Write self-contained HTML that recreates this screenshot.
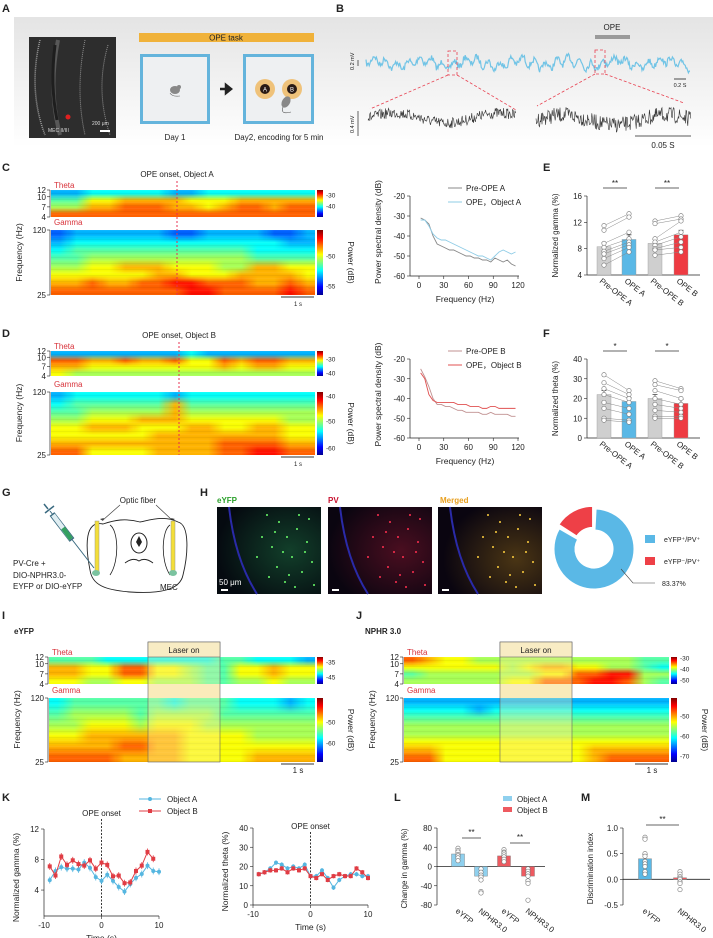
<!DOCTYPE html>
<html><head><meta charset="utf-8">
<style>
html,body{margin:0;padding:0;background:#fff;}
#wrap{position:relative;width:713px;height:938px;overflow:hidden;font-family:"Liberation Sans",sans-serif;background:#fff;}
#fig{position:absolute;left:0;top:0;z-index:2;}
canvas{position:absolute;z-index:1;}
text{font-family:"Liberation Sans",sans-serif;fill:#222;}
.pl{font-size:11px;font-weight:bold;}
.t{font-size:8px;}
.s{font-size:7px;}
</style></head>
<body>
<div id="wrap">
<svg id="fig" width="713" height="938" viewBox="0 0 713 938" xmlns="http://www.w3.org/2000/svg">
<defs>
<linearGradient id="bandg" x1="0" y1="0" x2="0" y2="1"><stop offset="0" stop-color="#e4e4e4"/><stop offset="1" stop-color="#ffffff"/></linearGradient>
<linearGradient id="jetv" x1="0" y1="1" x2="0" y2="0">
<stop offset="0" stop-color="#00008f"/><stop offset="0.125" stop-color="#0000ff"/><stop offset="0.375" stop-color="#00ffff"/><stop offset="0.625" stop-color="#ffff00"/><stop offset="0.875" stop-color="#ff0000"/><stop offset="1" stop-color="#800000"/></linearGradient>
<radialGradient id="glowG" cx="0.7" cy="0.5" r="0.7"><stop offset="0" stop-color="#123f2a"/><stop offset="1" stop-color="#050a10"/></radialGradient>
<radialGradient id="glowR" cx="0.7" cy="0.5" r="0.7"><stop offset="0" stop-color="#4a0e20"/><stop offset="1" stop-color="#0a0510"/></radialGradient>
<radialGradient id="glowM" cx="0.75" cy="0.6" r="0.7"><stop offset="0" stop-color="#4a3514"/><stop offset="1" stop-color="#0a0510"/></radialGradient>
</defs>
<rect x="14" y="17" width="699" height="130" fill="url(#bandg)"/>
<text class="pl" x="2" y="12">A</text>
<text class="pl" x="336" y="12">B</text>
<text class="pl" x="2" y="171">C</text>
<text class="pl" x="2" y="337">D</text>
<text class="pl" x="543" y="171">E</text>
<text class="pl" x="543" y="337">F</text>
<text class="pl" x="2" y="496">G</text>
<text class="pl" x="200" y="496">H</text>
<text class="pl" x="2" y="619">I</text>
<text class="pl" x="356" y="619">J</text>
<text class="pl" x="2" y="801">K</text>
<text class="pl" x="394" y="801">L</text>
<text class="pl" x="581" y="801">M</text>

<g>
<rect x="29" y="37" width="87" height="101" fill="#151515"/>
<path d="M40 40 Q28 90 45 135" stroke="#aaa" stroke-width="1.5" fill="none" stroke-dasharray="1 1"/>
<path d="M58 40 Q48 90 60 135" stroke="#888" stroke-width="4" fill="none" opacity="0.5"/>
<path d="M55 45 Q50 85 57 120" stroke="#000" stroke-width="3" fill="none"/>
<path d="M85 40 Q75 90 85 135" stroke="#999" stroke-width="1" fill="none" stroke-dasharray="1 1"/>
<path d="M108 45 Q95 90 110 135" stroke="#999" stroke-width="1" fill="none" stroke-dasharray="1 1"/>
<rect x="29" y="37" width="87" height="101" fill="#777" opacity="0.25"/>
<circle cx="68" cy="117" r="2.5" fill="#e02020"/>
<text x="48" y="132" style="fill:#ddd;font-size:5px">MEC II/III</text>
<text x="92" y="125" style="fill:#ddd;font-size:5px">200 μm</text>
<rect x="100" y="130" width="10" height="2" fill="#fff"/>
</g>
<rect x="139" y="33" width="175" height="9" fill="#f0b23a"/>
<text x="226" y="40.5" class="t" text-anchor="middle">OPE task</text>
<g>
<rect x="141.5" y="55.5" width="67" height="67" fill="#eef0f2" stroke="#64b4dc" stroke-width="3"/>
<ellipse cx="175" cy="90" rx="5" ry="4" fill="#888"/><circle cx="179" cy="87" r="2" fill="#888"/>
<path d="M170 93 q2 4 10 3" stroke="#666" fill="none" stroke-width="0.6"/>
</g>
<path d="M220 89 h10 M226 85 l5 4 l-5 4 z" stroke="#222" stroke-width="2.5" fill="#222"/>
<g>
<rect x="244.5" y="55.5" width="68" height="67" fill="#eef0f2" stroke="#64b4dc" stroke-width="3"/>
<circle cx="265" cy="89" r="10" fill="#efc27a"/><circle cx="265" cy="89" r="5" fill="#2a1a14"/><text x="265" y="91.5" text-anchor="middle" style="fill:#fff;font-size:6px">A</text>
<circle cx="292" cy="89" r="10" fill="#efc27a"/><circle cx="292" cy="89" r="5" fill="#2a1a14"/><text x="292" y="91.5" text-anchor="middle" style="fill:#fff;font-size:6px">B</text>
<ellipse cx="286" cy="102" rx="4" ry="6" fill="#888" transform="rotate(30 286 102)"/>
<path d="M283 107 q-3 8 8 5" stroke="#555" fill="none" stroke-width="0.6"/>
</g>
<text x="175" y="140" class="t" text-anchor="middle">Day 1</text>
<text x="279" y="140" class="t" text-anchor="middle">Day2, encoding for 5 min</text>

<text x="612" y="30" class="t" text-anchor="middle">OPE</text>
<rect x="595" y="35" width="35" height="4" fill="#9a9a9a"/>
<g id="traces"></g>
<text transform="translate(354,70) rotate(-90)" style="font-size:5.5px">0.2 mV</text>
<line x1="358" y1="60" x2="358" y2="66" stroke="#222" stroke-width="0.7"/>
<text transform="translate(354,133) rotate(-90)" style="font-size:5.5px">0.4 mV</text>
<line x1="358" y1="111" x2="358" y2="136" stroke="#222" stroke-width="0.7"/>
<line x1="674" y1="79" x2="686" y2="79" stroke="#222" stroke-width="0.8"/>
<text x="680" y="87" text-anchor="middle" style="font-size:5.5px">0.2 S</text>
<line x1="635" y1="136" x2="691" y2="136" stroke="#222" stroke-width="0.8"/>
<text x="663" y="148" class="t" text-anchor="middle">0.05 S</text>
<g fill="none" stroke="#e84050" stroke-width="0.8" stroke-dasharray="3 2">
<rect x="448" y="51" width="9" height="24"/><rect x="595" y="50" width="10" height="24"/>
<line x1="448" y1="75" x2="370" y2="109"/><line x1="457" y1="75" x2="516" y2="110"/>
<line x1="595" y1="74" x2="537" y2="106"/><line x1="605" y1="74" x2="684" y2="103"/>
</g>

<text x="138" y="503" class="t" text-anchor="middle">Optic fiber</text>
<g>
<path d="M120 505 L103 520 M156 505 L172 520" stroke="#444" stroke-width="0.7"/>
<path d="M100 519 l3 2 l1 -3 z M175 519 l-3 2 l-1 -3 z" fill="#444"/>
<path d="M103 524 C85 520 85 545 90 570 C92 585 105 590 130 592 C160 594 180 590 183 575 C188 555 190 525 178 522 C165 515 150 520 140 522 C125 518 115 520 103 524 Z" fill="#fff" stroke="#222" stroke-width="0.9"/>
<path d="M110 525 C118 530 120 560 110 575 M170 525 C162 530 160 560 170 575" stroke="#222" stroke-width="0.8" fill="none"/>
<ellipse cx="139" cy="543" rx="8" ry="10" fill="#fff" stroke="#222" stroke-width="1"/>
<path d="M139 536 l3 6 l-3 5 l-3 -5 z" fill="#222"/>
<path d="M125 563 q8 -6 14 -2 q6 -4 14 2" stroke="#222" fill="none" stroke-width="1"/>
<rect x="95" y="521" width="4" height="51" fill="#f3de3a" stroke="#998" stroke-width="0.5"/>
<rect x="171" y="521" width="4" height="51" fill="#f3de3a" stroke="#998" stroke-width="0.5"/>
<ellipse cx="96" cy="573" rx="4" ry="3" fill="#7bc3a0"/><ellipse cx="173" cy="573" rx="4" ry="3" fill="#7bc3a0"/>
<path d="M50 511 L94 568" stroke="#3a6a80" stroke-width="1"/>
<path d="M52 514 L72 540" stroke="#3a6a80" stroke-width="6"/>
<path d="M53 515 L71 539" stroke="#e0eef2" stroke-width="4.5"/>
<path d="M63 528 L71 539" stroke="#34a060" stroke-width="4.5"/>
<path d="M45 513 l9 -7 M48 509 l-4 -5" stroke="#3a6a80" stroke-width="1.5"/>
</g>
<text x="13" y="566" class="t">PV-Cre +</text>
<text x="13" y="578" class="t">DIO-NPHR3.0-</text>
<text x="13" y="589" class="t">EYFP or DIO-eYFP</text>
<text x="160" y="590" class="t">MEC</text>

<text x="217" y="503" class="t" style="fill:#2aa02a;font-weight:bold">eYFP</text>
<text x="328" y="503" class="t" style="fill:#c8102e;font-weight:bold">PV</text>
<text x="440" y="503" class="t" style="fill:#e8a020;font-weight:bold">Merged</text>
<g id="micro"></g>
<text x="219" y="585" class="t" style="fill:#fff">50 μm</text>
<g id="donut"></g>
<rect x="645" y="535" width="10" height="8" fill="#5ab8e6"/>
<text x="664" y="542" class="s">eYFP⁺/PV⁺</text>
<rect x="645" y="557" width="10" height="8" fill="#ee4047"/>
<text x="664" y="564" class="s">eYFP⁻/PV⁺</text>
<path d="M621 569 L633 583 L655 583" stroke="#444" fill="none" stroke-width="0.6"/>
<text x="662" y="586" class="s">83.37%</text>

<text x="14" y="634" class="t" style="font-weight:bold">eYFP</text>
<text x="365" y="634" class="t" style="font-weight:bold">NPHR 3.0</text>

<g id="charts"></g>
</svg>
</div>
<script>
// ---------- data ----------
const psdFreq = [2,7,12,17,22,27,32,37,42,47,52,57,62,67,72,77,82,87,92,97,102,107,112,117];
const psdPreA = [-31,-32,-34,-40,-44,-45,-46,-47,-47,-48,-49,-50,-50,-51,-51,-52,-52,-53,-51,-52,-53,-52,-54,-55];
const psdOpeA = [-32,-32,-35,-39,-41,-42,-42,-43,-44,-45,-46,-47,-48,-49,-50,-50,-51,-52,-50,-48,-47,-48,-49,-48];
const psdPreB = [-25,-29,-34,-40,-43,-43,-44,-44,-45,-46,-46,-47,-47,-47,-47,-48,-48,-47,-48,-48,-48,-48,-49,-49];
const psdOpeB = [-27,-30,-38,-41,-42,-42,-42,-42,-42,-43,-43,-43,-44,-44,-44,-45,-45,-44,-44,-45,-45,-45,-45,-45];

const eCats = ['Pre-OPE A','OPE A','Pre-OPE B','OPE B'];
const eMeans = [8.3,9.4,8.8,10.1];
const eErr = [0.6,0.7,0.6,0.7];
const ePts = [[11.5,10.8,8.8,8.2,7.6,7.2,6.5,5.5],[13.3,12.8,10.5,9.5,9.0,8.6,8.2,7.5],[12.2,11.8,9.5,9.0,8.5,8.0,7.8,7.0],[13.0,12.5,12.2,10.5,9.8,9.0,8.2,7.5]];
const eTicks = [4,8,12,16];
const fMeans = [22,18.5,20,17.5];
const fErr = [2,2,2,2];
const fPts = [[32,28,25,22,18,15,10,9],[24,22,20,18,15,12,9,8],[29,27,24,20,17,14,11,10],[25,24,20,17,15,13,11,10]];
const fTicks = [0,10,20,30,40];

const kTime = [-9,-8,-7,-6,-5,-4,-3,-2,-1,0,1,2,3,4,5,6,7,8,9,10];
const kGammaA = [5.3,6.5,7.0,6.8,6.8,6.7,7.6,6.9,5.7,5.2,6.0,5.2,4.4,3.8,4.8,5.6,6.1,7.2,6.5,6.4];
const kGammaB = [7.1,5.9,8.4,7.3,7.9,7.4,7.2,7.9,6.8,7.6,7.3,5.8,5.9,4.9,5.0,6.5,7.2,9.0,8.1,null];
const kThetaA = [16,17,19,22,21,19,20,19,21,15,15,18,14,9,13,15,16,16,15,15];
const kThetaB = [16,17,18,18,19,17,19,18,19,15,14,16,13,15,16,15,15,19,17,14];
const kGammaTicks = [4,8,12];
const kThetaTicks = [0,10,20,30,40];
const kTimeTicks = [-10,0,10];

const lCats = ['eYFP','NPHR3.0','eYFP','NPHR3.0'];
const lMeans = [26,-20,22,-20];
const lErr = [4,9,5,8];
const lPts = [[38,33,30,25,22,18,12],[-5,-12,-18,-22,-28,-52,-55],[35,30,28,24,20,15,10],[-5,-10,-15,-20,-30,-35,-70]];
const lTicks = [-80,-40,0,40,80];
const mCats = ['eYFP','NPHR3.0'];
const mMeans = [0.40,0.03];
const mErr = [0.08,0.03];
const mPts = [[0.82,0.78,0.5,0.45,0.35,0.3,0.25,0.15,0.1],[0.15,0.1,0.05,0.02,0,-0.05,-0.08,-0.2]];
const mTicks = [-0.5,0,0.5,1.0];

const donutVals = [83.37,16.63];

const specCtheta = ["2233333223333333","4466777766677777","5577888776788788","8888888888888888"];
const specCgamma = ["1222222112222112","2333333333333322","3444444444443333","4455555555554444","5566777666557766","6666667766677776","7787788998887787","8888888899888898"];
const specDtheta = ["2222222232222222","8877877866878877","7766666666767766","6555555555555555"];
const specDgamma = ["2333333233333333","3444444744444444","4455555755555555","5566677766666655","6677766677667766","6666667777777766","7777777777888877","8866667777889988"];
const specItheta = ["4443333333443332","7766886654466766","7766886654466766","6655665554455655"];
const specIgamma = ["3444444344433323","4555545555444444","5566656665555555","6677777766665555","7777887766666666","8888777766667777"];
const specJtheta = ["8766555555555544","6666665677665543","4555555566889955","5555556688899854"];
const specJgamma = ["2222222222222222","3333233333333333","4444444444444444","5555555555555555","5555555555555555","6666666666666666","7766666666677777","8866666666678888"];

// ---------- helpers ----------
const NS='http://www.w3.org/2000/svg';
const root=document.getElementById('charts');
function el(tag,attrs,parent){const e=document.createElementNS(NS,tag);for(const k in attrs)e.setAttribute(k,attrs[k]);(parent||root).appendChild(e);return e;}
function txt(x,y,s,size,anchor,parent,extra){const e=el('text',Object.assign({x:x,y:y,'text-anchor':anchor||'start',style:'font-size:'+size+'px'},extra||{}),parent);e.textContent=s;return e;}
function jet(t){t=Math.max(0,Math.min(1,t));const c=v=>Math.round(255*Math.max(0,Math.min(1,v)));return [c(1.5-Math.abs(4*t-3)),c(1.5-Math.abs(4*t-2)),c(1.5-Math.abs(4*t-1))];}
function spec(grid,x,y,w,h,name){
  const rows=grid.length,cols=grid[0].length;
  const s=document.createElement('canvas');s.width=cols;s.height=rows;const sc=s.getContext('2d');
  const im=sc.createImageData(cols,rows);
  for(let r=0;r<rows;r++)for(let c=0;c<cols;c++){const v=+grid[r][c]/9*0.72+0.14;const col=jet(v);const i=(r*cols+c)*4;im.data[i]=col[0];im.data[i+1]=col[1];im.data[i+2]=col[2];im.data[i+3]=255;}
  sc.putImageData(im,0,0);
  const cv=document.createElement('canvas');cv.width=w;cv.height=h;cv.style.left=x+'px';cv.style.top=y+'px';
  
  
  const ctx=cv.getContext('2d');ctx.imageSmoothingEnabled=true;ctx.drawImage(s,0,0,cols,rows,0,0,w,h);
  ctx.globalAlpha=0.07;for(let yy=0;yy<h;yy+=3){ctx.fillStyle=(yy/3)%2?'#000':'#fff';ctx.fillRect(0,yy,w,1);}ctx.globalAlpha=1;
  const wrap=document.getElementById('wrap');wrap.insertBefore(cv,wrap.firstChild);
}
function specPanel(o){
  spec(o.tg,o.x0,o.ty0,o.x1-o.x0,o.ty1-o.ty0,o.name+'-theta-spectrogram');
  spec(o.gg,o.x0,o.gy0,o.x1-o.x0,o.gy1-o.gy0,o.name+'-gamma-spectrogram');
  const g=el('g',{});
  
  
  el('line',{x1:o.x0-1,y1:o.ty0,x2:o.x0-1,y2:o.ty1,stroke:'#222','stroke-width':0.7},g);
  el('line',{x1:o.x0-1,y1:o.gy0,x2:o.x0-1,y2:o.gy1,stroke:'#222','stroke-width':0.7},g);
  o.tt.forEach(t=>{const yy=o.ty1-(t-4)/8*(o.ty1-o.ty0);el('line',{x1:o.x0-4,x2:o.x0-1,y1:yy,y2:yy,stroke:'#222','stroke-width':0.6},g);const tl=txt(o.x0-5,yy+3,String(t),8,'end',g);});
  [[120,o.gy0],[25,o.gy1]].forEach(p=>{el('line',{x1:o.x0-4,x2:o.x0-1,y1:p[1],y2:p[1],stroke:'#222','stroke-width':0.6},g);txt(o.x0-5,p[1]+3,String(p[0]),8,'end',g);});
  txt(o.x0+3,o.ty0-2,'Theta',8,'start',g,{style:'font-size:8px;fill:#d8323a'});
  txt(o.x0+3,o.gy0-5,'Gamma',8,'start',g,{style:'font-size:8px;fill:#d8323a'});
  const fl=txt(0,0,'Frequency (Hz)',8.5,'middle',g,{transform:'translate('+(o.x0-29)+','+((o.ty0+o.gy1)/2+10)+') rotate(-90)'});
  
  const cb=o.x1+2;
  el('rect',{x:cb,y:o.ty0,width:6,height:o.ty1-o.ty0,fill:'url(#jetv)'},g);
  el('rect',{x:cb,y:o.gy0,width:6,height:o.gy1-o.gy0,fill:'url(#jetv)'},g);
  o.cbt.forEach(p=>txt(cb+9,p[1]+2.5,p[0],6.5,'start',g));
  o.cbg.forEach(p=>txt(cb+9,p[1]+2.5,p[0],6.5,'start',g));
  const pl=txt(0,0,'Power (dB)',8.5,'middle',g,{transform:'translate('+(o.x1+33)+','+((o.gy0+o.gy1)/2)+') rotate(90)'});
  
  el('line',{x1:o.x1-34,x2:o.x1-1,y1:o.gy1+2,y2:o.gy1+2,stroke:'#333','stroke-width':1},g);
  txt(o.x1-17,o.gy1+11,'1 s',o.big?8:6,'middle',g);
  if(o.onset){
    el('line',{x1:o.onset,x2:o.onset,y1:o.ty0-9,y2:o.gy1,stroke:'#e83050','stroke-width':1,'stroke-dasharray':'2 2'},g);
    const ot=txt(o.onset,o.ty0-13,o.title,8,'middle',g);
  }
  if(o.laser){
    el('rect',{x:o.laser[0],y:o.ty1,width:o.laser[1]-o.laser[0],height:o.gy0-o.ty1,fill:'#f8ecc4'},g);
    const lr=el('rect',{x:o.laser[0],y:o.ty0-15,width:o.laser[1]-o.laser[0],height:o.gy1-o.ty0+15,fill:'rgba(255,236,170,0.35)',stroke:'#666','stroke-width':0.6},g);
    
    el('rect',{x:o.laser[0],y:o.ty0-15,width:o.laser[1]-o.laser[0],height:15,fill:'#f8ecc4',stroke:'#666','stroke-width':0.6},g);
    txt((o.laser[0]+o.laser[1])/2,o.ty0-4,'Laser on',8,'middle',g);
  }
}
specPanel({name:'c',x0:51,x1:315,ty0:190,ty1:217,gy0:230,gy1:295,tg:specCtheta,gg:specCgamma,tt:[12,10,7,4],cbt:[['-30',195],['-40',206]],cbg:[['-50',256],['-55',286]],onset:177,title:'OPE onset, Object A'});
specPanel({name:'d',x0:51,x1:315,ty0:351,ty1:376,gy0:392,gy1:455,tg:specDtheta,gg:specDgamma,tt:[12,10,7,4],cbt:[['-30',359],['-40',373]],cbg:[['-40',396],['-50',421],['-60',448]],onset:179,title:'OPE onset, Object B'});
specPanel({name:'i',x0:49,x1:315,ty0:657,ty1:684,gy0:698,gy1:762,tg:specItheta,gg:specIgamma,tt:[12,10,7,4],cbt:[['-35',662],['-45',677]],cbg:[['-50',722],['-60',743]],laser:[148,220],big:true});
specPanel({name:'j',x0:404,x1:669,ty0:657,ty1:684,gy0:698,gy1:762,tg:specJtheta,gg:specJgamma,tt:[12,10,7,4],cbt:[['-30',658],['-40',669],['-50',680]],cbg:[['-50',716],['-60',736],['-70',756]],laser:[500,572],big:true});

// ---------- LFP traces (decorative signal) ----------
(function(){
  const g=document.getElementById('traces');
  let seed=7;const rnd=()=>{seed=(seed*16807)%2147483647;return seed/2147483647;};
  let d='';for(let x=366;x<=690;x+=0.8){const y=63+Math.sin(x*0.55)*4+Math.sin(x*0.13)*3+(rnd()-0.5)*6;d+=(d?'L':'M')+x.toFixed(1)+' '+y.toFixed(1);}
  const b=el('path',{d:d,stroke:'#5bbce4','stroke-width':1.2,fill:'none',opacity:0.85},g);
  
  [[368,516,118,0.9],[536,691,120,1.3]].forEach((s,k)=>{let p='';for(let x=s[0];x<=s[1];x+=0.6){const y=s[2]+Math.sin((x-s[0])*0.06)*-5+(rnd()-0.5)*12*s[3];p+=(p?'L':'M')+x.toFixed(1)+' '+y.toFixed(1);}
    const t=el('path',{d:p,stroke:'#333','stroke-width':0.6,fill:'none'},g);
    });
})();

// ---------- microscopy (decorative) ----------
(function(){
  const g=document.getElementById('micro');
  const xs=[217,328,438];const fills=['url(#glowG)','url(#glowR)','url(#glowM)'];const dots=['#6cff6c','#ff3050','#ffd040'];
  const pos=[[50,8],[62,15],[70,30],[55,40],[80,22],[90,35],[75,50],[60,60],[85,65],[95,55],[68,75],[78,80],[92,12],[45,30],[66,45],[88,45],[58,25],[72,68],[40,50],[52,70],[82,8],[97,78]];
  xs.forEach((x,i)=>{
    el('rect',{x:x,y:507,width:104,height:87,fill:fills[i]},g);
    el('path',{d:'M'+(x+12)+' 507 Q'+(x+18)+' 560 '+(x+40)+' 594',stroke:'#2a2aa8','stroke-width':2,fill:'none'},g);
    pos.forEach(p=>el('circle',{cx:x+p[0],cy:507+p[1],r:1,fill:dots[i]},g));
    el('rect',{x:x+4,y:589,width:7,height:2,fill:'#fff'},g);
  });
})();

// ---------- donut ----------
(function(){
  const g=document.getElementById('donut');const cx=594,cy=549,R=40,r=19;
  const tot=donutVals[0]+donutVals[1];const cols=['#5ab8e6','#ee4047'];
  const starts=[3,3+donutVals[0]/tot*360];
  donutVals.forEach((v,i)=>{
    const s=starts[i]*Math.PI/180,e=(starts[i]+v/tot*360-3)*Math.PI/180;
    const mid=(s+e)/2;const off=i===1?3:0;const ox=Math.sin(mid)*off,oy=-Math.cos(mid)*off;
    const P=(rad,a)=>[cx+ox+rad*Math.sin(a),cy+oy-rad*Math.cos(a)];
    const big=(e-s)>Math.PI?1:0;const p1=P(R,s),p2=P(R,e),p3=P(r,e),p4=P(r,s);
    const sl=el('path',{d:`M${p1} A${R} ${R} 0 ${big} 1 ${p2} L${p3} A${r} ${r} 0 ${big} 0 ${p4}Z`,fill:cols[i],stroke:'#fff','stroke-width':1},g);
    
  });
})();

// ---------- PSD ----------
function psd(y0,y1,series,cols,labels,name){
  const g=el('g',{});
  
  
  const X=f=>419+f/120*99, Y=v=>y0+(-20-v)/40*(y1-y0);
  el('line',{x1:410,x2:410,y1:y0,y2:y1,stroke:'#222','stroke-width':0.7},g);
  el('line',{x1:410,x2:519,y1:y1,y2:y1,stroke:'#222','stroke-width':0.7},g);
  [-20,-30,-40,-50,-60].forEach(v=>{el('line',{x1:407,x2:410,y1:Y(v),y2:Y(v),stroke:'#222','stroke-width':0.6},g);txt(405,Y(v)+3,String(v),8,'end',g);});
  [0,30,60,90,120].forEach(f=>{el('line',{x1:X(f),x2:X(f),y1:y1,y2:y1+3,stroke:'#222','stroke-width':0.6},g);txt(X(f),y1+12,String(f),8,'middle',g);});
  txt(465,y1+26,'Frequency (Hz)',8.5,'middle',g);
  txt(0,0,'Power spectral density (dB)',8.5,'middle',g,{transform:'translate(381,'+((y0+y1)/2-4)+') rotate(-90)'});
  series.forEach((s,i)=>{const ln=el('polyline',{points:psdFreq.map((f,j)=>X(f)+','+Y(s[j])).join(' '),fill:'none',stroke:cols[i],'stroke-width':0.9},g);
    
    el('line',{x1:448,x2:462,y1:y0-8+i*14,y2:y0-8+i*14,stroke:cols[i],'stroke-width':1},g);
    txt(466,y0-5+i*14,labels[i],8,'start',g);});
}
psd(196,276,[psdPreA,psdOpeA],['#888','#8fcce6'],['Pre-OPE A','OPE，Object A'],'psd-chart-c');
psd(359,438,[psdPreB,psdOpeB],['#c09090','#e05050'],['Pre-OPE B','OPE，Object B'],'psd-chart-d');

// ---------- paired bar charts E/F ----------
function pairBar(y0,y1,ticks,means,err,pts,stars,title,name){
  const g=el('g',{});
  
  
  const lo=ticks[0],hi=ticks[ticks.length-1];const Y=v=>y1-(v-lo)/(hi-lo)*(y1-y0);
  const xs=[604,629,655,681];const cols=['#cfcfcf','#5ab8e6','#cfcfcf','#ee3b42'];
  el('line',{x1:587,x2:587,y1:y0,y2:y1,stroke:'#222','stroke-width':0.7},g);
  el('line',{x1:587,x2:700,y1:y1,y2:y1,stroke:'#222','stroke-width':0.7},g);
  ticks.forEach(t=>{el('line',{x1:584,x2:587,y1:Y(t),y2:Y(t),stroke:'#222','stroke-width':0.6},g);txt(582,Y(t)+3,String(t),8,'end',g);});
  txt(0,0,title,8,'middle',g,{transform:'translate(558,'+((y0+y1)/2)+') rotate(-90)'});
  means.forEach((m,i)=>{const b=el('rect',{x:xs[i]-7,y:Y(m),width:14,height:y1-Y(m),fill:cols[i],stroke:'#999','stroke-width':0.4},g);
    
    el('line',{x1:xs[i],x2:xs[i],y1:Y(m+err[i]),y2:Y(m),stroke:'#333','stroke-width':0.7},g);
    el('line',{x1:xs[i]-2.5,x2:xs[i]+2.5,y1:Y(m+err[i]),y2:Y(m+err[i]),stroke:'#333','stroke-width':0.7},g);
    const lt=txt(0,0,eCats[i],8,'start',g,{transform:'translate('+(xs[i]-5)+','+(y1+7)+') rotate(38)'});
    });
  [[0,1],[2,3]].forEach(pr=>pts[pr[0]].forEach((v,k)=>el('line',{x1:xs[pr[0]],x2:xs[pr[1]],y1:Y(v),y2:Y(pts[pr[1]][k]),stroke:'#888','stroke-width':0.5},g)));
  pts.forEach((a,i)=>a.forEach(v=>{const c=el('circle',{cx:xs[i],cy:Y(v),r:2.2,fill:'#fff',stroke:'#777','stroke-width':0.6},g);}));
  [[603,627],[655,679]].forEach(s=>{el('line',{x1:s[0],x2:s[1],y1:y0-8,y2:y0-8,stroke:'#333','stroke-width':0.7},g);txt((s[0]+s[1])/2,y0-10,stars,8,'middle',g);});
}
pairBar(196,275,eTicks,eMeans,eErr,ePts,'**','Normalized gamma (%)','bar-chart-e');
pairBar(359,438,fTicks,fMeans,fErr,fPts,'*','Normalized theta (%)','bar-chart-f');

// ---------- K line charts ----------
function kChart(xl,xr,y0,y1,lo,hi,ticks,A,B,title,errA,errB,onsetY,name){
  const g=el('g',{});
  
  
  const X=t=>(xl+xr)/2+t*(xr-xl)/20, Y=v=>y1-(v-lo)/(hi-lo)*(y1-y0);
  el('line',{x1:xl,x2:xl,y1:Y(ticks[ticks.length-1]),y2:y1,stroke:'#222','stroke-width':0.7},g);
  el('line',{x1:xl,x2:xr,y1:y1,y2:y1,stroke:'#222','stroke-width':0.7},g);
  ticks.forEach(t=>{el('line',{x1:xl-3,x2:xl,y1:Y(t),y2:Y(t),stroke:'#222','stroke-width':0.6},g);txt(xl-5,Y(t)+3,String(t),8,'end',g);});
  kTimeTicks.forEach(t=>{el('line',{x1:X(t),x2:X(t),y1:y1,y2:y1+3,stroke:'#222','stroke-width':0.6},g);txt(X(t),y1+12,String(t),8,'middle',g);});
  txt((xl+xr)/2,y1+25,'Time (s)',8.5,'middle',g);
  txt(0,0,title,8.5,'middle',g,{transform:'translate('+(xl-25)+','+((y0+y1)/2+5)+') rotate(-90)'});
  el('line',{x1:X(0),x2:X(0),y1:onsetY+3,y2:y1,stroke:'#222','stroke-width':0.9,'stroke-dasharray':'2 1.5'},g);
  txt(X(0),onsetY,'OPE onset',8,'middle',g);
  [[A,'#55b6e0',errA,'circle'],[B,'#e03c44',errB,'square']].forEach((s,si)=>{
    const pts=kTime.map((t,i)=>s[0][i]==null?null:[X(t),Y(s[0][i])]).filter(p=>p);
    const ln=el('polyline',{points:pts.map(p=>p.join(',')).join(' '),fill:'none',stroke:s[1],'stroke-width':1},g);
    
    kTime.forEach((t,i)=>{const v=s[0][i];if(v==null)return;
      el('line',{x1:X(t),x2:X(t),y1:Y(v+s[2]),y2:Y(v-s[2]),stroke:s[1],'stroke-width':0.8},g);
      const mk=s[3]==='circle'?el('circle',{cx:X(t),cy:Y(v),r:2,fill:s[1]},g):el('rect',{x:X(t)-2,y:Y(v)-2,width:4,height:4,fill:s[1]},g);
      });
  });
}
kChart(44,159,829,916,0.6,12,kGammaTicks,kGammaA,kGammaB,'Normalized gamma (%)',0.45,0.45,816,'line-chart-gamma');
kChart(253,368,828,905,0,40,kThetaTicks,kThetaA,kThetaB,'Normalized theta (%)',1.2,1.2,829,'line-chart-theta');
(function(){
  const g=el('g',{});
  
  
  el('line',{x1:139,x2:161,y1:799,y2:799,stroke:'#55b6e0','stroke-width':1},g);el('circle',{cx:150,cy:799,r:2,fill:'#55b6e0'},g);
  el('line',{x1:139,x2:161,y1:811,y2:811,stroke:'#e03c44','stroke-width':1},g);el('rect',{x:148,y:809,width:4,height:4,fill:'#e03c44'},g);
  txt(167,802,'Object A',8,'start',g);txt(167,814,'Object B',8,'start',g);
})();

// ---------- L / M bar charts ----------
function dotBar(xl,xr,y0,y1,ticks,cats,means,err,pts,cols,xs,sig,title,name){
  const g=el('g',{});
  
  
  const lo=ticks[0],hi=ticks[ticks.length-1];const Y=v=>y1-(v-lo)/(hi-lo)*(y1-y0);
  el('line',{x1:xl,x2:xl,y1:y0,y2:y1,stroke:'#222','stroke-width':0.7},g);
  el('line',{x1:xl,x2:xr,y1:Y(0),y2:Y(0),stroke:'#222','stroke-width':0.8},g);
  ticks.forEach(t=>{el('line',{x1:xl-3,x2:xl,y1:Y(t),y2:Y(t),stroke:'#222','stroke-width':0.6},g);txt(xl-5,Y(t)+3,(Math.abs(hi)>5)?String(t):t.toFixed(1),8,'end',g);});
  txt(0,0,title,8,'middle',g,{transform:'translate('+(xl-30)+','+((y0+y1)/2+2)+') rotate(-90)'});
  means.forEach((m,i)=>{const top=Math.min(Y(m),Y(0)),h=Math.abs(Y(m)-Y(0));
    const b=el('rect',{x:xs[i]-6.5,y:top,width:13,height:h,fill:cols[i],stroke:'#777','stroke-width':0.4},g);
    
    const ee=m>=0?m+err[i]:m-err[i];
    el('line',{x1:xs[i],x2:xs[i],y1:Y(m),y2:Y(ee),stroke:'#333','stroke-width':0.7},g);
    el('line',{x1:xs[i]-2.5,x2:xs[i]+2.5,y1:Y(ee),y2:Y(ee),stroke:'#333','stroke-width':0.7},g);
    pts[i].forEach(v=>{const c=el('circle',{cx:xs[i],cy:Y(v),r:2.2,fill:'#fff',stroke:'#777','stroke-width':0.6},g);});
    const lt=txt(0,0,cats[i],8,'start',g,{transform:'translate('+(xs[i]-3)+','+(y1+7)+') rotate(38)'});
    });
  sig.forEach(s=>{el('line',{x1:s[0],x2:s[1],y1:s[2],y2:s[2],stroke:'#333','stroke-width':0.7},g);txt((s[0]+s[1])/2,s[2]-3,'**',8,'middle',g);});
}
dotBar(437,545,828,905,lTicks,lCats,lMeans,lErr,lPts,['#8fd0ee','#8fd0ee','#ee5a60','#ee5a60'],[458,481,504,528],[[462,481,838],[510,530,843]],'Change in gamma (%)','bar-chart-l');
dotBar(623,710,828,905,mTicks,mCats,mMeans,mErr,mPts,['#5ab8e6','#ee5a60'],[645,680],[[646,679,825]],'Discrimination index','bar-chart-m');
(function(){
  const g=el('g',{});
  
  
  el('rect',{x:503,y:796,width:9,height:5,fill:'#8fd0ee'},g);el('rect',{x:503,y:807,width:9,height:5,fill:'#ee5a60'},g);
  txt(517,802,'Object A',8,'start',g);txt(517,813,'Object B',8,'start',g);
})();
</script>
</body></html>
